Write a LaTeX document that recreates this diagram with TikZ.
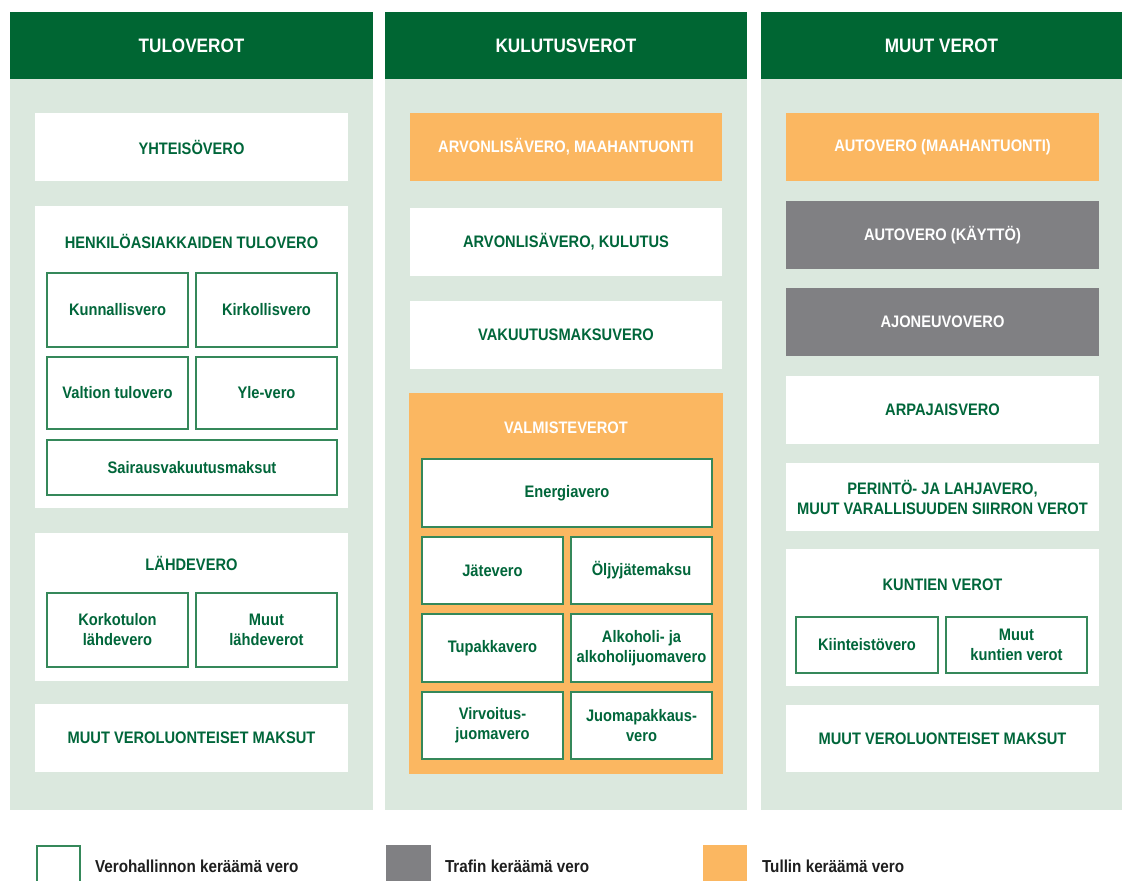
\documentclass[tikz,border=0pt]{standalone}
\usepackage{fontspec}
\setmainfont{Liberation Sans}[FakeStretch=0.88]
\definecolor{hgreen}{HTML}{006633}
\definecolor{lgreen}{HTML}{DBE8DE}
\definecolor{tgreen}{HTML}{00663A}
\definecolor{bgreen}{HTML}{35885A}
\definecolor{torange}{HTML}{FBB761}
\definecolor{tgray}{HTML}{808083}
\definecolor{ltext}{HTML}{1E1E1E}
\newcommand\bx[7]{\node[#1, anchor=north west, minimum width={(#5-#3)*0.75pt}, minimum height={(#6-#4)*0.75pt}] (#2) at (#3,#4) {#7};}
\begin{document}
\begin{tikzpicture}[x=0.75pt,y=-0.75pt,
  base/.style={inner sep=0pt, outer sep=0pt, align=center, font=\bfseries\fontsize{12.5}{15}\selectfont, text=tgreen},
  head/.style={base, fill=hgreen, text=white, font=\bfseries\fontsize{14.6}{18}\selectfont},
  colbody/.style={base, fill=lgreen},
  wbox/.style={base, fill=white},
  obox/.style={base, fill=torange, text=white},
  gbox/.style={base, fill=tgray, text=white},
  sub/.style={base, fill=white, draw=bgreen, line width=1.5pt},
  title/.style={base, anchor=center},
  legtext/.style={base, anchor=west, text=ltext, font=\bfseries\fontsize{13}{15}\selectfont}]
\useasboundingbox (0,0) rectangle (1122,881);
% columns
\bx{colbody}{b1}{10}{79}{373}{810}{}
\bx{colbody}{b2}{385}{79}{747}{810}{}
\bx{colbody}{b3}{761}{79}{1122}{810}{}
\bx{head}{h1}{10}{12}{373}{79}{TULOVEROT}
\bx{head}{h2}{385}{12}{747}{79}{KULUTUSVEROT}
\bx{head}{h3}{761}{12}{1122}{79}{MUUT VEROT}
% column 1
\bx{wbox}{yht}{35}{113}{348}{181}{YHTEISÖVERO}
\bx{wbox}{hen}{35}{206}{348}{508}{}
\node[title] (hent) at (191.5,241) {HENKILÖASIAKKAIDEN TULOVERO};
\bx{sub}{kun}{47}{273}{188}{347}{Kunnallisvero}
\bx{sub}{kir}{196}{273}{337}{347}{Kirkollisvero}
\bx{sub}{val}{47}{357}{188}{429}{Valtion tulovero}
\bx{sub}{yle}{196}{357}{337}{429}{Yle-vero}
\bx{sub}{sai}{47}{440}{337}{495}{Sairausvakuutusmaksut}
\bx{wbox}{lah}{35}{533}{348}{681}{}
\node[title] (laht) at (191.5,563) {LÄHDEVERO};
\bx{sub}{kor}{47}{593}{188}{667}{Korkotulon\\lähdevero}
\bx{sub}{mlv}{196}{593}{337}{667}{Muut\\lähdeverot}
\bx{wbox}{mvm1}{35}{704}{348}{772}{MUUT VEROLUONTEISET MAKSUT}
% column 2
\bx{obox}{alvm}{410}{113}{722}{181}{ARVONLISÄVERO, MAAHANTUONTI}
\bx{wbox}{alvk}{410}{208}{722}{276}{ARVONLISÄVERO, KULUTUS}
\bx{wbox}{vak}{410}{301}{722}{369}{VAKUUTUSMAKSUVERO}
\bx{obox}{valm}{409}{393}{723}{774}{}
\node[title, text=white] (valmt) at (566,428) {VALMISTEVEROT};
\bx{sub}{ene}{422}{459}{712}{527}{Energiavero}
\bx{sub}{jat}{422}{537}{563}{604}{Jätevero}
\bx{sub}{olj}{571}{537}{712}{604}{Öljyjätemaksu}
\bx{sub}{tup}{422}{614}{563}{682}{Tupakkavero}
\bx{sub}{alk}{571}{614}{712}{682}{Alkoholi- ja\\alkoholijuomavero}
\bx{sub}{vir}{422}{692}{563}{759}{Virvoitus-\\juomavero}
\bx{sub}{juo}{571}{692}{712}{759}{Juomapakkaus-\\vero}
% column 3
\bx{obox}{autm}{786}{113}{1099}{181}{AUTOVERO (MAAHANTUONTI)}
\bx{gbox}{autk}{786}{201}{1099}{269}{AUTOVERO (KÄYTTÖ)}
\bx{gbox}{ajo}{786}{288}{1099}{356}{AJONEUVOVERO}
\bx{wbox}{arp}{786}{376}{1099}{444}{ARPAJAISVERO}
\bx{wbox}{per}{786}{463}{1099}{531}{PERINTÖ- JA LAHJAVERO,\\MUUT VARALLISUUDEN SIIRRON VEROT}
\bx{wbox}{kuv}{786}{549}{1099}{686}{}
\node[title] (kuvt) at (942.5,585) {KUNTIEN VEROT};
\bx{sub}{kii}{796}{617}{938}{673}{Kiinteistövero}
\bx{sub}{mkv}{946}{617}{1087}{673}{Muut\\kuntien verot}
\bx{wbox}{mvm3}{786}{705}{1099}{772}{MUUT VEROLUONTEISET MAKSUT}
% legend
\bx{sub}{leg1}{37}{846}{80}{884}{}
\bx{gbox}{leg2}{386}{845}{431}{881}{}
\bx{obox}{leg3}{703}{845}{747}{881}{}
\node[legtext] (lt1) at (95,866) {Verohallinnon keräämä vero};
\node[legtext] (lt2) at (445,866) {Trafin keräämä vero};
\node[legtext] (lt3) at (762,866) {Tullin keräämä vero};
\end{tikzpicture}
\end{document}
